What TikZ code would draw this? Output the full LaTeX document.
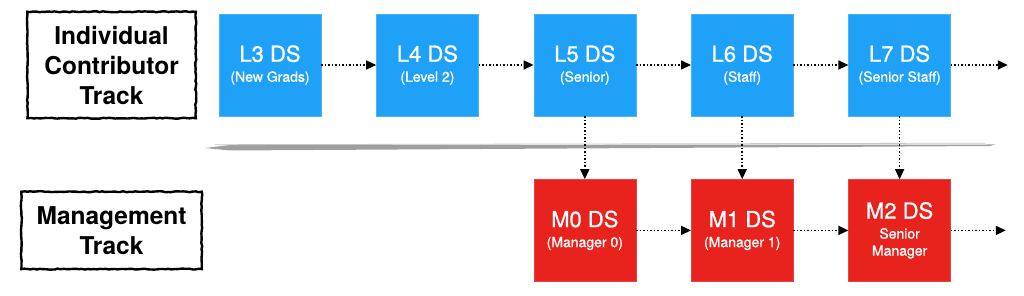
\documentclass[tikz,border=0pt]{standalone}
\usepackage{fontspec}
\setmainfont{TeX Gyre Heros}
\newfontfamily\boxfont[FakeBold=0.9]{TeX Gyre Heros}
\usetikzlibrary{positioning, arrows.meta, decorations.pathmorphing}
\definecolor{icblue}{RGB}{30,161,246}
\definecolor{mgred}{RGB}{232,35,30}
\tikzset{
	level/.style={rectangle, minimum width=102pt, minimum height=102pt, align=center, text=white, inner sep=2pt, font=\boxfont\fontsize{14}{20}\selectfont},
	iclevel/.style={level, fill=icblue, draw=icblue!80!white},
	mglevel/.style={level, fill=mgred, draw=mgred!85!white},
	trackbox/.style={align=center, font=\fontsize{24.5}{30}\selectfont\bfseries},
	sketch/.style={draw=black, line width=2.4pt, decorate, decoration={random steps, segment length=3pt, amplitude=0.5pt}},
	arrow/.style={dotted, line width=1.5pt, -{Triangle[length=10pt, width=9pt]}}
}
\newcommand{\lvltitle}[1]{{\fontsize{22}{20}\selectfont #1}}

\begin{document}
\begin{tikzpicture}[x=1pt, y=1pt, node distance=55pt]
		\useasboundingbox (0,0) rectangle (1024,296);
		% individual contributor row
		\node[iclevel] (l3) at (270,231) {\lvltitle{L3 DS}\\(New Grads)};
		\node[iclevel, right=of l3] (l4) {\lvltitle{L4 DS}\\(Level 2)};
		\node[iclevel, right=of l4] (l5) {\lvltitle{L5 DS}\\(Senior)};
		\node[iclevel, right=of l5] (l6) {\lvltitle{L6 DS}\\(Staff)};
		\node[iclevel, right=of l6] (l7) {\lvltitle{L7 DS}\\(Senior Staff)};
		\coordinate[right=57pt of l7] (icend);
		
		% management row
		\node[mglevel, below=63pt of l5] (m0) {\lvltitle{M0 DS}\\(Manager 0)};
		\node[mglevel, right=of m0] (m1) {\lvltitle{M1 DS}\\(Manager 1)};
		\node[mglevel, right=of m1] (m2) {\lvltitle{M2 DS}\\Senior\\[-3pt]Manager};
		\coordinate[right=55pt of m2] (mgend);
		
		% track labels
		\node[trackbox, minimum width=168pt, minimum height=106pt, left=23pt of l3] (ic) {Individual\\Contributor\\Track};
		\node[trackbox, minimum width=180pt, minimum height=77pt] (mg) at (ic |- m0) {Management\\Track};
		\draw[sketch] (ic.south west) rectangle (ic.north east);
		\draw[sketch] (mg.south west) rectangle (mg.north east);
		
		% divider stroke
		\fill[gray!75] (205,148) -- (230,145.5) -- (990,150) -- (995,151.5) -- (230,151) -- cycle;
		\draw[gray!45, line width=0.8pt] (215,151.3) -- (985,152.8);
		
		\draw[arrow] (l3) -- (l4);
		\draw[arrow] (l4) -- (l5);
		\draw[arrow] (l5) -- (l6);
		\draw[arrow] (l6) -- (l7);
		\draw[arrow] (l7) -- (icend);
		\draw[arrow] (l5) -- (m0);
		\draw[arrow] (l6) -- (m1);
		\draw[arrow] (l7) -- (m2);
		\draw[arrow] (m0) -- (m1);
		\draw[arrow] (m1) -- (m2);
		\draw[arrow] (m2) -- (mgend);
	\end{tikzpicture}
\end{document}
